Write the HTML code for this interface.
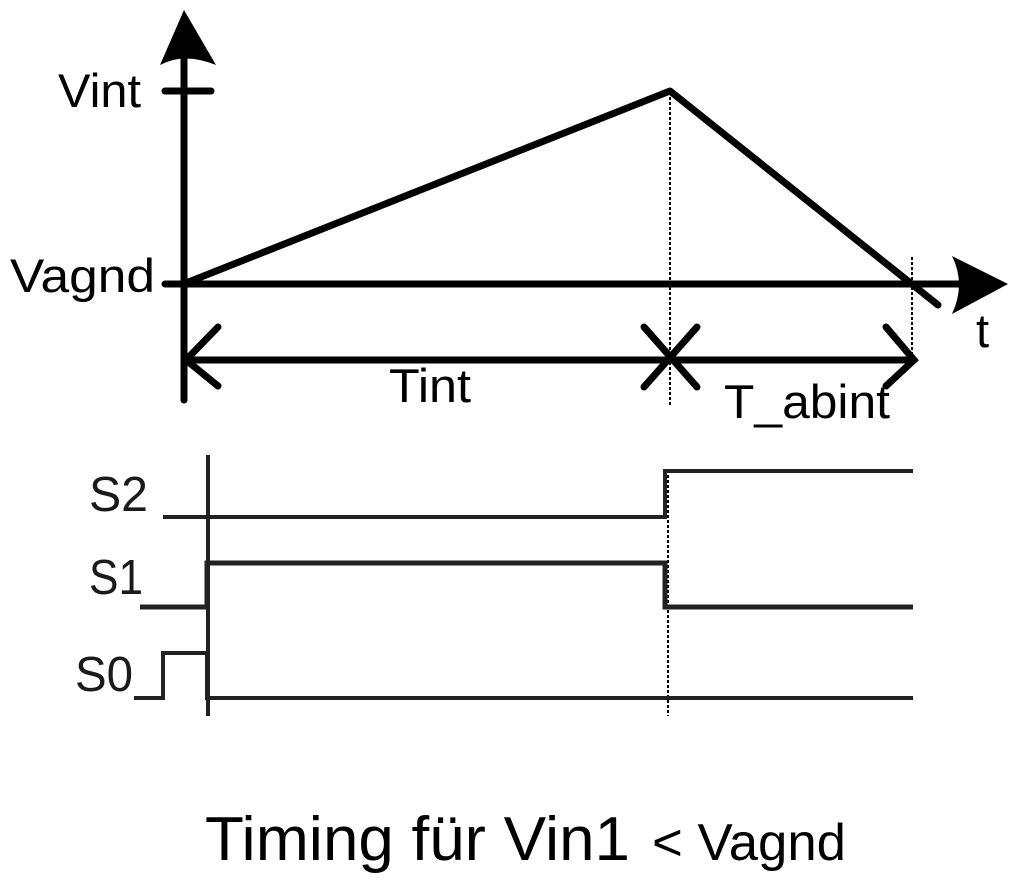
<!DOCTYPE html>
<html><head><meta charset="utf-8"><style>
html,body{margin:0;padding:0;background:#fff;width:1018px;height:884px;overflow:hidden}
svg{display:block}
text{font-family:"Liberation Sans",sans-serif;fill:#000}
</style></head><body>
<svg width="1018" height="884" viewBox="0 0 1018 884" xmlns="http://www.w3.org/2000/svg">
<g stroke="#000" stroke-width="7" stroke-linecap="round" fill="none">
  <line x1="184" y1="58" x2="184" y2="400"/>
  <line x1="165" y1="91" x2="211" y2="91"/>
  <line x1="165" y1="284" x2="960" y2="284"/>
  <polyline points="186,283 670,91 938,305" stroke-linejoin="round"/>
  <line x1="186" y1="360" x2="914" y2="360"/>
  <polyline points="218,327 186,360 218,386"/>
  <line x1="644" y1="327" x2="697" y2="387"/>
  <line x1="697" y1="327" x2="644" y2="387"/>
  <polyline points="886,327 914,360 886,386"/>
</g>
<path d="M184,10 L216,65 Q184,52 160,65 Z" fill="#000"/>
<path d="M1008,284 L952,256 Q966,284 952,314 Z" fill="#000"/>
<g stroke="#000" stroke-width="2" stroke-dasharray="3,2" fill="none">
  <line x1="670" y1="92" x2="670" y2="405"/>
  <line x1="912" y1="257" x2="912" y2="358"/>
  <line x1="668" y1="470" x2="668" y2="716"/>
</g>
<text x="58" y="107" font-size="47" textLength="83" lengthAdjust="spacingAndGlyphs">Vint</text>
<text x="10" y="292" font-size="47" textLength="145" lengthAdjust="spacingAndGlyphs">Vagnd</text>
<text x="389" y="402" font-size="47" textLength="82" lengthAdjust="spacingAndGlyphs">Tint</text>
<text x="724" y="418" font-size="47" textLength="166" lengthAdjust="spacingAndGlyphs">T_abint</text>
<text x="976" y="347" font-size="47">t</text>
<g stroke="#222" stroke-width="4" fill="none">
  <line x1="208" y1="455" x2="208" y2="716" stroke-width="4"/>
  <polyline points="163,517 665,517 665,471 913,471"/>
  <polyline points="140,607 207,607 207,563 665,563 665,607 913,607" stroke-width="5"/>
  <polyline points="134,698 163,698 163,653 207,653 207,698 913,698"/>
</g>
<text x="89" y="511" font-size="49" style="fill:#1a1a1a" textLength="59" lengthAdjust="spacingAndGlyphs">S2</text>
<text x="89" y="594" font-size="49" style="fill:#1a1a1a" textLength="54" lengthAdjust="spacingAndGlyphs">S1</text>
<text x="75" y="691" font-size="49" style="fill:#1a1a1a" textLength="58" lengthAdjust="spacingAndGlyphs">S0</text>
<text x="205" y="860" font-size="62" textLength="425" lengthAdjust="spacingAndGlyphs">Timing für Vin1</text>
<text x="652" y="860" font-size="52" textLength="194" lengthAdjust="spacingAndGlyphs">&lt; Vagnd</text>
</svg>
</body></html>
